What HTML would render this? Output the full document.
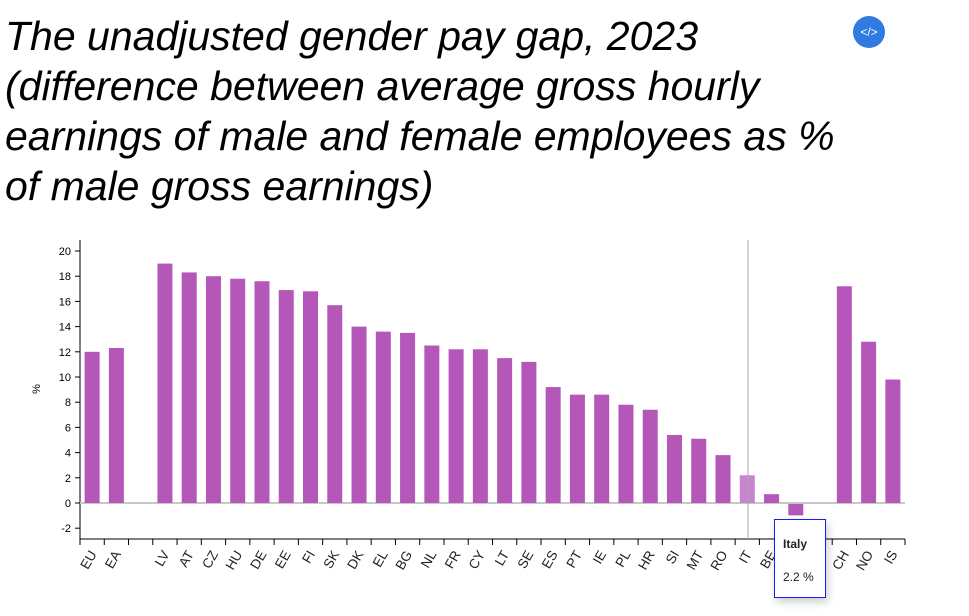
<!DOCTYPE html>
<html><head><meta charset="utf-8"><style>
body{margin:0;background:#fff;width:969px;height:616px;overflow:hidden;position:relative;font-family:"Liberation Sans",sans-serif}
.t{position:absolute;left:5px;top:11px;font-style:italic;font-size:41px;line-height:50px;color:#000;white-space:nowrap}
</style></head><body>
<div class="t">The unadjusted gender pay gap, 2023<br>(difference between average gross hourly<br>earnings of male and female employees as %<br>of male gross earnings)</div>
<div style="position:absolute;left:853px;top:16px;width:32px;height:32px;border-radius:50%;background:#2f7be0;color:#fff;font-size:12px;text-align:center;line-height:32px">&lt;/&gt;</div>
<svg width="969" height="616" style="position:absolute;left:0;top:0" font-family="Liberation Sans, sans-serif">
<g id="c"></g>
</svg>
<div style="position:absolute;left:774px;top:519px;width:50px;height:77px;border:1px solid #1a1aff;background:#fff;box-shadow:2px 4px 8px rgba(0,0,0,.2);font-size:12px;color:#222">
<div style="position:absolute;left:8px;top:17px;font-weight:bold">Italy</div>
<div style="position:absolute;left:8px;top:50px">2.2 %</div></div>
<script>
const cats=["EU","EA","","LV","AT","CZ","HU","DE","EE","FI","SK","DK","EL","BG","NL","FR","CY","LT","SE","ES","PT","IE","PL","HR","SI","MT","RO","IT","BE","LU","","CH","NO","IS"];
const vals=[12.0,12.3,null,19.0,18.3,18.0,17.8,17.6,16.9,16.8,15.7,14.0,13.6,13.5,12.5,12.2,12.2,11.5,11.2,9.2,8.6,8.6,7.8,7.4,5.4,5.1,3.8,2.2,0.7,-0.9,null,17.2,12.8,9.8];
const x0=80,x1=905,y0=503,k=12.6,w=(x1-x0)/cats.length;
let s='';
s+=`<line x1="${x0}" y1="240" x2="${x0}" y2="539" stroke="#000"/>`;
s+=`<line x1="${x0}" y1="539" x2="${x1}" y2="539" stroke="#000"/>`;
for(let v=-2;v<=20;v+=2){const y=y0-v*k;s+=`<line x1="${x0-5}" x2="${x0}" y1="${y}" y2="${y}" stroke="#000"/><text x="${x0-9}" y="${y+4}" font-size="11" text-anchor="end">${v}</text>`;}
s+=`<text transform="translate(40,389) rotate(-90)" font-size="11" text-anchor="middle">%</text>`;
s+=`<line x1="${x0}" x2="${x1}" y1="${y0}" y2="${y0}" stroke="#c8c8c8" stroke-width="2"/>`;
cats.forEach((c,i)=>{const cx=x0+w*(i+.5);const v=vals[i];
if(v!=null){const h=Math.abs(v)*k;const y=v>=0?y0-h:y0+1;s+=`<rect x="${cx-7.5}" y="${y}" width="15" height="${h}" fill="${c=='IT'?'#c884cc':'#b457b9'}"/>`;}
s+=`<line x1="${x0+w*i}" x2="${x0+w*i}" y1="539" y2="545" stroke="#000"/>`;
if(c)s+=`<text transform="translate(${cx+5},554) rotate(-60)" font-size="13.5" text-anchor="end" fill="${c=='LU'?'#ccc':'#222'}">${c}</text>`;});
s+=`<line x1="${x1}" x2="${x1}" y1="539" y2="545" stroke="#000"/>`;
s+=`<line x1="748" x2="748" y1="240" y2="539" stroke="#aaa"/>`;
document.getElementById('c').innerHTML=s;
</script>
</body></html>
